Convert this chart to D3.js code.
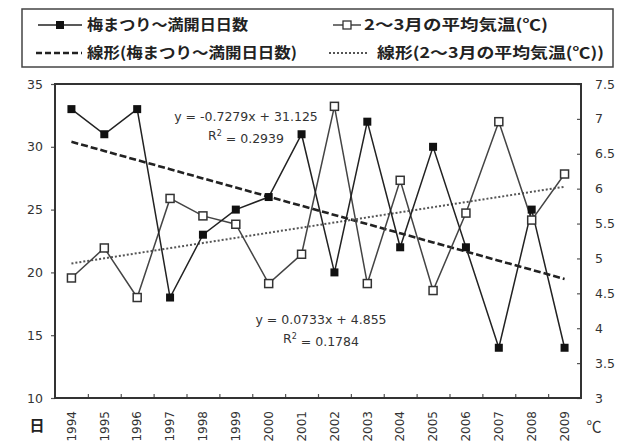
<!DOCTYPE html>
<html>
<head>
<meta charset="utf-8">
<script src="https://cdn.jsdelivr.net/npm/d3@7"></script>
<style>
  html, body { margin: 0; padding: 0; background: #fff; }
  svg { display: block; }
</style>
</head>
<body>
<svg id="chart" width="633" height="443"></svg>
<script>
// Years of the plum festival (x categories)
const years = ["1994","1995","1996","1997","1998","1999","2000","2001",
               "2002","2003","2004","2005","2006","2007","2008","2009"];
// Days from the plum festival opening until full bloom (left axis)
const bloomDays = [33, 31, 33, 18, 23, 25, 26, 31, 20, 32, 22, 30, 22, 14, 25, 14];
// Average temperature of February-March in °C (right axis)
const avgTemp = [4.72, 5.15, 4.44, 5.86, 5.61, 5.49, 4.64, 5.06, 7.18, 4.64, 6.12, 4.54, 5.65, 6.96, 5.55, 6.21];

// Linear trend coefficients [slope, intercept] against the year index 1..16
const bloomTrend = [-0.7279, 31.125];
const tempTrend = [0.0733, 4.855];
const bloomR2 = "0.2939";
const tempR2 = "0.1784";

// Axis ticks
const leftTicks = [10, 15, 20, 25, 30, 35];
const rightTicks = [3, 3.5, 4, 4.5, 5, 5.5, 6, 6.5, 7, 7.5];

// Legend labels
const legendLabels = {
  days: "梅まつり～満開日日数",
  temp: "2～3月の平均気温(℃)",
  daysTrend: "線形(梅まつり～満開日日数)",
  tempTrend: "線形(2～3月の平均気温(℃))"
};

const svg = d3.select("#chart");
const plot = { left: 55, right: 581, top: 84, bottom: 398 };
const numFont = "'DejaVu Sans', sans-serif";
const jpFont = "'Noto Sans CJK JP', sans-serif";

svg.append("rect").attr("width", 633).attr("height", 443).attr("fill", "#fff");

const x = d3.scalePoint().domain(years).range([plot.left, plot.right]).padding(0.5);
const xEdge = d3.scaleLinear().domain([0, years.length]).range([plot.left, plot.right]);
const yL = d3.scaleLinear().domain([10, 35]).range([plot.bottom, plot.top]);
const yR = d3.scaleLinear().domain([3, 7.5]).range([plot.bottom, plot.top]);

// Left axis
const gL = svg.append("g").attr("transform", `translate(${plot.left},0)`)
  .call(d3.axisLeft(yL).tickValues(leftTicks).tickSize(4).tickPadding(8));
gL.select(".domain").remove();
gL.selectAll("line").attr("stroke", "#555").attr("stroke-width", 1.2);
gL.selectAll("text").attr("font-family", numFont).attr("font-size", 12.5).attr("fill", "#333");

// Right axis
const gR = svg.append("g").attr("transform", `translate(${plot.right},0)`)
  .call(d3.axisRight(yR).tickValues(rightTicks).tickSize(-4).tickPadding(14).tickFormat(d3.format("")));
gR.select(".domain").remove();
gR.selectAll("line").attr("stroke", "#555").attr("stroke-width", 1.2);
gR.selectAll("text").attr("font-family", numFont).attr("font-size", 12.5).attr("fill", "#333");

// Bottom axis: ticks at category boundaries, pointing inward
const gB = svg.append("g").attr("transform", `translate(0,${plot.bottom})`)
  .call(d3.axisBottom(xEdge).tickValues(d3.range(1, years.length)).tickSize(-4).tickFormat(""));
gB.select(".domain").remove();
gB.selectAll("line").attr("stroke", "#555").attr("stroke-width", 1.2);

// Rotated year labels
svg.append("g").selectAll("text").data(years).join("text")
  .attr("transform", d => `translate(${x(d)},411) rotate(-90)`)
  .attr("text-anchor", "end")
  .attr("dy", "0.35em")
  .attr("font-family", numFont).attr("font-size", 12).attr("fill", "#333")
  .text(d => d);

// Unit labels under the axes
svg.append("text").attr("x", 37).attr("y", 431).attr("text-anchor", "middle")
  .attr("font-family", jpFont).attr("font-size", 15).attr("font-weight", "bold").attr("fill", "#222")
  .text("日");
svg.append("text").attr("x", 594).attr("y", 432).attr("text-anchor", "middle")
  .attr("font-family", jpFont).attr("font-size", 15).attr("fill", "#333")
  .text("℃");

// Plot frame
svg.append("rect")
  .attr("x", plot.left).attr("y", plot.top)
  .attr("width", plot.right - plot.left).attr("height", plot.bottom - plot.top)
  .attr("fill", "none").attr("stroke", "#333").attr("stroke-width", 2);

// Trend lines computed from their equations
const idx = d3.range(1, years.length + 1);
const trendLine = (coef, scale) => d3.line()
  .x(i => x(years[i - 1]))
  .y(i => scale(coef[0] * i + coef[1]));

svg.append("path").datum(idx)
  .attr("d", trendLine(bloomTrend, yL))
  .attr("fill", "none").attr("stroke", "#222").attr("stroke-width", 2.6)
  .attr("stroke-dasharray", "7,3");
svg.append("path").datum(idx)
  .attr("d", trendLine(tempTrend, yR))
  .attr("fill", "none").attr("stroke", "#555").attr("stroke-width", 2)
  .attr("stroke-dasharray", "2,2");

// Temperature series: open squares
svg.append("path").datum(avgTemp)
  .attr("d", d3.line().x((d, i) => x(years[i])).y(d => yR(d)))
  .attr("fill", "none").attr("stroke", "#444").attr("stroke-width", 1.5);

// Bloom days series: filled squares
svg.append("path").datum(bloomDays)
  .attr("d", d3.line().x((d, i) => x(years[i])).y(d => yL(d)))
  .attr("fill", "none").attr("stroke", "#222").attr("stroke-width", 1.5);

const sq = 8;
svg.append("g").selectAll("rect").data(avgTemp).join("rect")
  .attr("x", (d, i) => x(years[i]) - sq / 2).attr("y", d => yR(d) - sq / 2)
  .attr("width", sq).attr("height", sq)
  .attr("fill", "#fff").attr("stroke", "#333").attr("stroke-width", 1.5);
svg.append("g").selectAll("rect").data(bloomDays).join("rect")
  .attr("x", (d, i) => x(years[i]) - sq / 2).attr("y", d => yL(d) - sq / 2)
  .attr("width", sq).attr("height", sq)
  .attr("fill", "#111");

// Trend equations: "y = ax + b" and "R² = r" centred under each other
const eqText = (cx, cy, coef, r2) => {
  const style = el => el.attr("text-anchor", "middle").attr("dy", "0.35em")
    .attr("font-family", numFont).attr("font-size", 12.5).attr("fill", "#333");
  style(svg.append("text").attr("x", cx).attr("y", cy))
    .text(`y = ${coef[0]}x + ${coef[1]}`);
  const r = style(svg.append("text").attr("x", cx).attr("y", cy + 19));
  r.append("tspan").text("R");
  r.append("tspan").attr("font-size", 8).attr("dy", "-0.5em").text("2");
  r.append("tspan").attr("dy", "0.5em").text(" = " + r2);
};
eqText(246, 117, bloomTrend, bloomR2);
eqText(321, 320, tempTrend, tempR2);

// Legend
const lg = svg.append("g");
lg.append("rect").attr("x", 22).attr("y", 9).attr("width", 591).attr("height", 58)
  .attr("fill", "#fff").attr("stroke", "#444").attr("stroke-width", 1.5);

const legendText = (tx, ty, str, len) => lg.append("text")
  .attr("x", tx).attr("y", ty).attr("dy", "0.35em")
  .attr("font-family", jpFont).attr("font-size", 15).attr("font-weight", "bold")
  .attr("fill", "#222")
  .attr("textLength", len).attr("lengthAdjust", "spacingAndGlyphs")
  .text(str);

// Row 1 left: bloom days
lg.append("line").attr("x1", 38).attr("x2", 82).attr("y1", 25).attr("y2", 25)
  .attr("stroke", "#222").attr("stroke-width", 1.5);
lg.append("rect").attr("x", 60 - sq / 2).attr("y", 25 - sq / 2).attr("width", sq).attr("height", sq)
  .attr("fill", "#111");
legendText(87, 25, legendLabels.days, 161);

// Row 1 right: temperature
lg.append("line").attr("x1", 333).attr("x2", 361).attr("y1", 25).attr("y2", 25)
  .attr("stroke", "#444").attr("stroke-width", 1.5);
lg.append("rect").attr("x", 347 - sq / 2).attr("y", 25 - sq / 2).attr("width", sq).attr("height", sq)
  .attr("fill", "#fff").attr("stroke", "#333").attr("stroke-width", 1.3);
legendText(364, 25, legendLabels.temp, 184);

// Row 2 left: bloom trend
lg.append("line").attr("x1", 36).attr("x2", 82).attr("y1", 53).attr("y2", 53)
  .attr("stroke", "#222").attr("stroke-width", 2.4).attr("stroke-dasharray", "6,3");
legendText(87, 53, legendLabels.daysTrend, 210);

// Row 2 right: temperature trend
lg.append("line").attr("x1", 329).attr("x2", 367).attr("y1", 53).attr("y2", 53)
  .attr("stroke", "#555").attr("stroke-width", 1.8).attr("stroke-dasharray", "2,2");
legendText(377, 53, legendLabels.tempTrend, 227);
</script>
</body>
</html>
